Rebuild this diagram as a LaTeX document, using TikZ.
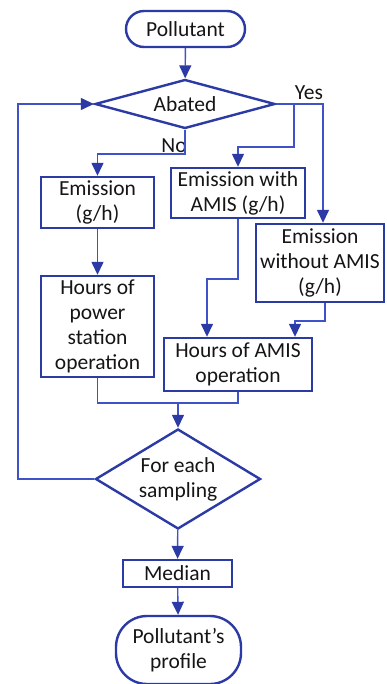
\documentclass[tikz,border=0pt]{standalone}
\usepackage{fontspec}
\setmainfont{Carlito}
\usetikzlibrary{arrows.meta,shapes.geometric}
\definecolor{boxblue}{HTML}{2B3AA5}
\definecolor{linkblue}{HTML}{4052C8}
\definecolor{txt}{HTML}{151515}
\begin{document}
\begin{tikzpicture}[x=1pt,y=-1pt,
  every node/.style={font=\fontsize{21.5}{25}\selectfont, text=txt, align=center, inner sep=0pt},
  boxnode/.style={draw=boxblue, line width=2.4pt, rectangle, fill=white},
  decision/.style={draw=boxblue, line width=2.4pt, diamond, fill=white},
  link/.style={draw=linkblue, line width=1.4pt},
  arr/.style={link, -{Triangle[length=13pt,width=12pt,fill=boxblue,color=boxblue]}}
]
\useasboundingbox (0,0) rectangle (386,684);
\fill[white] (0,0) rectangle (386,684);

\node[boxnode, rounded corners=18pt, minimum width=119pt, minimum height=36pt] (start) at (185.5,29) {Pollutant};
\node[decision, aspect=3.67, minimum width=180pt, minimum height=49pt] (abated) at (185,104) {Abated};
\node[boxnode, minimum width=113pt, minimum height=51pt] (emis) at (97.5,202.5) {Emission\\(g/h)};
\node[boxnode, minimum width=134pt, minimum height=50pt] (with) at (238,193) {Emission with\\AMIS (g/h)};
\node[boxnode, minimum width=128pt, minimum height=78pt] (without) at (320,263) {Emission\\without AMIS\\(g/h)};
\node[boxnode, minimum width=113pt, minimum height=101pt] (hours) at (97.5,326.5) {Hours of\\power\\station\\operation};
\node[boxnode, minimum width=148pt, minimum height=53pt] (hamis) at (238,364.5) {Hours of AMIS\\operation};
\node[decision, aspect=1.65, minimum width=165pt, minimum height=100pt] (each) at (178,479) {For each\\sampling};
\node[boxnode, minimum width=109pt, minimum height=27pt] (median) at (177.5,573.5) {Median};
\node[boxnode, rounded corners=31pt, minimum width=125pt, minimum height=68pt] (profile) at (178.5,650) {Pollutant’s\\profile};

\node (yes) at (309,93) {Yes};
\node (no) at (174,146) {No};

\coordinate (yr) at (323,104);
\coordinate (yb) at (294,104);
\coordinate (yb2) at (294,147);
\coordinate (nb) at (185,154);
\coordinate (w1) at (238,279);
\coordinate (w2) at (207,279);
\coordinate (o1) at (325,321);
\coordinate (o2) at (295,321);
\coordinate (j) at (178,403);
\coordinate (l1) at (18,479);
\coordinate (l2) at (18,104);

\draw[arr] (start) -- (abated);
\draw[arr] (abated.east) -- (yr) -- (yr |- without.north);
\draw[arr] (yb) -- (yb2) -| (with.north);
\draw[arr] (abated.south) -- (nb) -| (emis.north);
\draw[arr] (emis) -- (hours);
\draw[arr] (with.south) -- (w1) -- (w2) -- (w2 |- hamis.north);
\draw[arr] (o1 |- without.south) -- (o1) -- (o2) -- (o2 |- hamis.north);
\draw[link] (hours.south) |- (j);
\draw[link] (hamis.south) |- (j);
\draw[arr] (j) -- (each.north);
\draw[arr] (each.west) -- (l1) -- (l2) -- (abated.west);
\draw[arr] (each) -- (median);
\draw[arr] (median) -- (profile);
\end{tikzpicture}
\end{document}
